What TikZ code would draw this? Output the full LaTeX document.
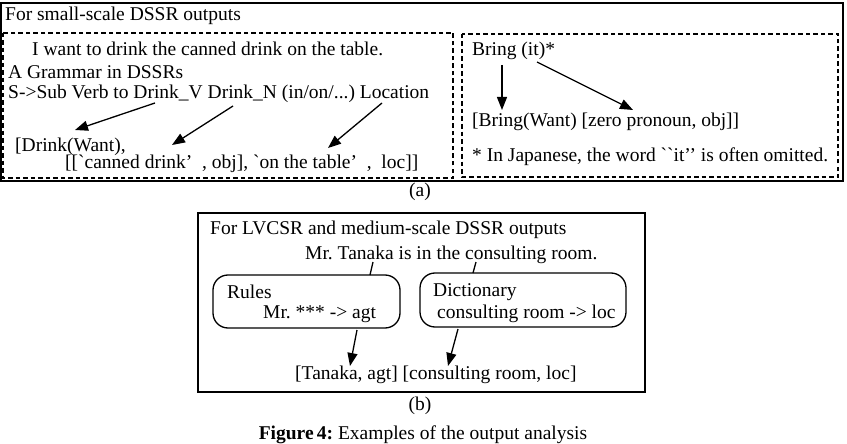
\documentclass[tikz,border=0pt]{standalone}
\usepackage{fontspec}
\setmainfont{Liberation Serif}
\usetikzlibrary{arrows.meta}
\frenchspacing
\begin{document}
\begin{tikzpicture}[x=1pt,y=-1pt,
  txt/.style={inner sep=0pt, anchor=base west, font=\fontsize{19.5pt}{23pt}\selectfont},
  ctxt/.style={inner sep=0pt, anchor=base, font=\fontsize{19.5pt}{23pt}\selectfont},
  solidbox/.style={draw, line width=1.6pt},
  dashbox/.style={draw, line width=1.3pt, dash pattern=on 4.5pt off 3pt},
  roundbox/.style={draw, line width=1.3pt, rounded corners=15pt},
  arr/.style={line width=1.3pt, -{Triangle[length=13pt,width=10pt]}},
  plain/.style={line width=1.3pt}]
\useasboundingbox (0,0) rectangle (847,444);

% (a)
\draw[solidbox] (1,3) rectangle (843,181);
\draw[dashbox] (3,33) rectangle (453,178);
\draw[dashbox] (462,34) rectangle (838,177);

\node[txt] (ta) at (5,21) {For small-scale DSSR outputs};
\node[txt] (sent) at (32,56) {I want to drink the canned drink on the table.};
\node[txt] (gram) at (8,79) {A Grammar in DSSRs};
\node[txt] (rule) at (8,99) {S->Sub Verb to Drink\_V Drink\_N (in/on/...) Location};
\node[txt] (drink) at (15,151) {[Drink(Want),};
\node[txt] (args) at (65,168) {[[\textasciigrave canned drink’\ \ , obj], \textasciigrave on the table’\ \ ,\ \ loc]]};

\coordinate (r1) at (155,103);
\coordinate (d1) at (75,130);
\coordinate (r2) at (233,106);
\coordinate (d2) at (172,145);
\coordinate (r3) at (382,103);
\coordinate (d3) at (328,148);
\draw[arr] (r1) -- (d1);
\draw[arr] (r2) -- (d2);
\draw[arr] (r3) -- (d3);

\node[txt] (bring) at (472,56) {Bring (it)*};
\node[txt] (bres) at (472,126) {[Bring(Want) [zero pronoun, obj]]};
\node[txt] (note) at (472,161) {* In Japanese, the word \textasciigrave\textasciigrave it’’ is often omitted.};
\coordinate (b1) at (502,65);
\coordinate (e1) at (502,110);
\coordinate (b2) at (537,62);
\coordinate (e2) at (633,110);
\draw[arr] (b1) -- (e1);
\draw[arr] (b2) -- (e2);

\node[ctxt] (la) at (420,196) {(a)};

% (b)
\draw[solidbox] (198,213) rectangle (645,392);
\node[txt] (tb) at (210,234) {For LVCSR and medium-scale DSSR outputs};
\node[txt] (mr) at (305,259) {Mr. Tanaka is in the consulting room.};
\draw[roundbox] (213,275) rectangle (400,328);
\draw[roundbox] (420,273) rectangle (626,327);
\node[txt] (rules) at (227,298) {Rules};
\node[txt] (rulex) at (263,318) {Mr. *** -> agt};
\node[txt] (dict) at (433,296) {Dictionary};
\node[txt] (dictx) at (437,318) {consulting room -> loc};
\node[txt] (res) at (295,379) {[Tanaka, agt] [consulting room, loc]};

\coordinate (m1) at (373,262);
\coordinate (k1) at (370,275);
\coordinate (m2) at (476,262);
\coordinate (k2) at (473,273);
\draw[plain] (m1) -- (k1);
\draw[plain] (m2) -- (k2);
\coordinate (s1) at (357,330);
\coordinate (f1) at (350,366);
\coordinate (s2) at (458,329);
\coordinate (f2) at (448,366);
\draw[arr] (s1) -- (f1);
\draw[arr] (s2) -- (f2);

\node[ctxt] (lb) at (420,410) {(b)};
\node[ctxt] (cap) at (423,439) {\textbf{Figure\,4:} Examples of the output analysis};
\end{tikzpicture}
\end{document}
